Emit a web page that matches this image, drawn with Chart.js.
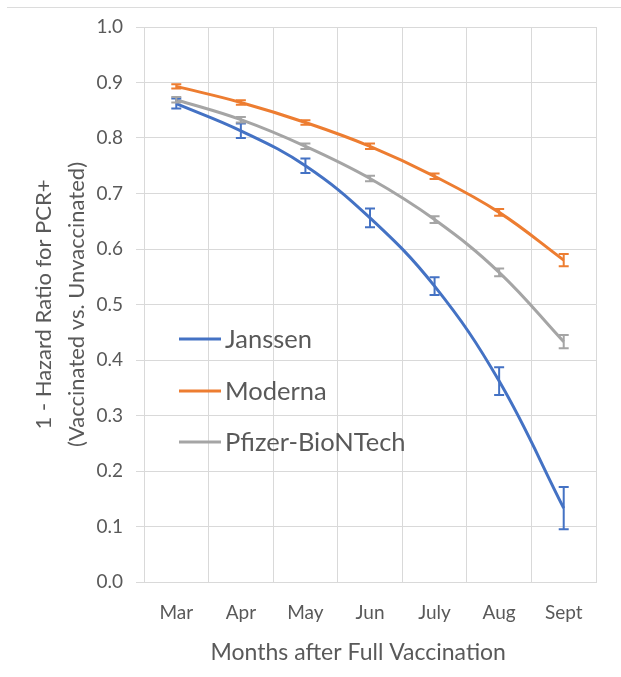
<!DOCTYPE html>
<html>
<head>
<meta charset="utf-8">
<script src="https://cdn.jsdelivr.net/npm/chart.js@4"></script>
<style>
  body { margin: 0; background: #fff; }
  #wrap { position: relative; width: 621px; height: 677px; }
  #topline { position: absolute; left: 7px; right: 0; top: 7px; border-top: 1px solid #dcdcdc; }
  canvas { position: absolute; left: 0; top: 0; }
</style>
</head>
<body>
<div id="wrap">
  <div id="topline"></div>
  <canvas id="chart" width="621" height="677"></canvas>
</div>
<script>
const months = ["Mar", "Apr", "May", "Jun", "July", "Aug", "Sept"]

const janssen = [0.862, 0.813, 0.750, 0.656, 0.533, 0.362, 0.133]
const janssenErr = [0.009, 0.013, 0.013, 0.017, 0.016, 0.025, 0.038]

const moderna = [0.893, 0.864, 0.828, 0.785, 0.731, 0.666, 0.580]
const modernaErr = [0.004, 0.004, 0.004, 0.005, 0.005, 0.006, 0.011]

const pfizer = [0.869, 0.833, 0.785, 0.727, 0.653, 0.558, 0.433]
const pfizerErr = [0.005, 0.005, 0.005, 0.005, 0.006, 0.007, 0.012]

const seriesNames = ["Janssen", "Moderna", "Pfizer-BioNTech"]
const colors = ["#4472C4", "#ED7D31", "#A5A5A5"]
const errors = [janssenErr, modernaErr, pfizerErr]

const textColor = "#595959"
const gridColor = "#d9d9d9"
const fontFamily = "Lato"

// error bars drawn from the data arrays through the scales
const errorBars = {
  id: "errorBars",
  afterDatasetsDraw(chart) {
    const { ctx, scales: { x, y } } = chart
    ctx.save()
    chart.data.datasets.forEach((ds, i) => {
      ctx.strokeStyle = colors[i]
      ctx.lineWidth = 2
      ds.data.forEach((v, j) => {
        const px = x.getPixelForValue(j)
        const top = y.getPixelForValue(v + errors[i][j])
        const bot = y.getPixelForValue(v - errors[i][j])
        ctx.beginPath()
        ctx.moveTo(px, top); ctx.lineTo(px, bot)
        ctx.moveTo(px - 5, top); ctx.lineTo(px + 5, top)
        ctx.moveTo(px - 5, bot); ctx.lineTo(px + 5, bot)
        ctx.stroke()
      })
    })
    ctx.restore()
  }
}

// legend placed inside the plot, like the original
const insideLegend = {
  id: "insideLegend",
  afterDraw(chart) {
    const { ctx, chartArea } = chart
    const x0 = chartArea.left + 35
    const rows = [339, 391, 442]
    ctx.save()
    ctx.font = "25.5px " + fontFamily
    ctx.textBaseline = "middle"
    ctx.fillStyle = textColor
    seriesNames.forEach((name, i) => {
      ctx.strokeStyle = colors[i]
      ctx.lineWidth = 3
      ctx.beginPath()
      ctx.moveTo(x0, rows[i]); ctx.lineTo(x0 + 42, rows[i])
      ctx.stroke()
      ctx.fillText(name, x0 + 46, rows[i] + 1)
    })
    ctx.restore()
  }
}

const ctx = document.getElementById("chart").getContext("2d")

new Chart(ctx, {
  type: "line",
  data: {
    labels: months,
    datasets: [janssen, moderna, pfizer].map((d, i) => ({
      label: seriesNames[i],
      data: d,
      borderColor: colors[i],
      backgroundColor: colors[i],
      borderWidth: 3,
      pointRadius: 0,
      tension: 0.4,
      fill: false,
    })),
  },
  options: {
    responsive: false,
    animation: false,
    layout: { padding: { left: 0, right: 25, top: 27, bottom: 0 } },
    plugins: {
      legend: { display: false },
      tooltip: { enabled: false },
    },
    scales: {
      x: {
        offset: true,
        grid: { offset: true, color: gridColor, drawTicks: false },
        border: { color: gridColor },
        ticks: { color: textColor, font: { family: fontFamily, size: 19 }, padding: 19 },
        title: {
          display: true,
          // trailing spaces nudge the centred title a little left, as in the original
          text: "Months after Full Vaccination    ",
          color: textColor,
          font: { family: fontFamily, size: 23, lineHeight: 1.2 },
          padding: { top: 0, bottom: 11 },
        },
        afterFit(s) { s.height = 95 },
      },
      y: {
        min: 0,
        max: 1,
        ticks: {
          stepSize: 0.1,
          color: textColor,
          font: { family: fontFamily, size: 19 },
          padding: 13,
          callback: v => v.toFixed(1),
        },
        grid: { color: gridColor, tickLength: 8 },
        border: { color: gridColor },
        title: {
          display: true,
          text: ["1 - Hazard Ratio for PCR+", "(Vaccinated vs. Unvaccinated)"],
          color: textColor,
          font: { family: fontFamily, size: 22, lineHeight: 1.5 },
          padding: { top: 27, bottom: 0 },
        },
        afterFit(s) { s.width = 144 },
      },
    },
  },
  plugins: [errorBars, insideLegend],
})
</script>
</body>
</html>
